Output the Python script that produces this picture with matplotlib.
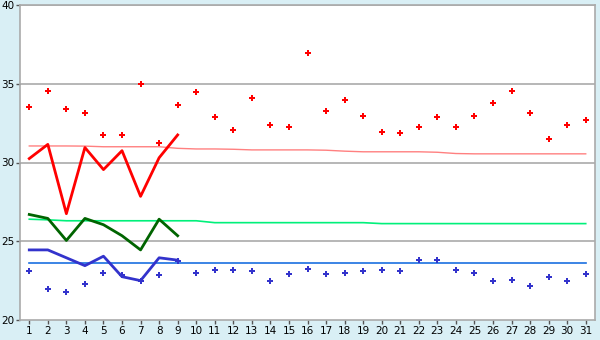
import matplotlib
matplotlib.use("Agg")
import matplotlib.pyplot as plt

# ---------------------------------------------------------------------------
# data
# ---------------------------------------------------------------------------
days = list(range(1, 32))

daily_max = [33.5, 34.55, 33.4, 33.15, 31.75, 31.75, 35.0, 31.25, 33.65, 34.5,
             32.9, 32.05, 34.1, 32.4, 32.25, 36.95, 33.25, 33.95, 32.95, 31.95,
             31.9, 32.25, 32.9, 32.25, 32.95, 33.8, 34.55, 33.15, 31.5, 32.4, 32.7]

daily_min = [23.1, 22.0, 21.8, 22.3, 23.0, 22.85, 22.5, 22.85, 23.75, 23.0,
             23.2, 23.2, 23.1, 22.5, 22.9, 23.25, 22.9, 23.0, 23.1, 23.2,
             23.1, 23.8, 23.8, 23.2, 23.0, 22.5, 22.55, 22.15, 22.7, 22.5, 22.9]

# partial-month actuals (days 1..9)
line_days = list(range(1, 10))
line_max = [30.25, 31.15, 26.75, 30.95, 29.55, 30.75, 27.85, 30.3, 31.75]
line_mean = [26.7, 26.45, 25.05, 26.45, 26.05, 25.35, 24.45, 26.4, 25.35]
line_min = [24.45, 24.45, 23.95, 23.45, 24.05, 22.75, 22.5, 23.95, 23.8]

# climate normals
norm_max = [31.05, 31.05, 31.05, 31.04, 31.0, 31.0, 31.0, 31.0, 30.9, 30.86,
            30.86, 30.84, 30.8, 30.8, 30.8, 30.8, 30.78, 30.72, 30.68, 30.68,
            30.68, 30.68, 30.65, 30.57, 30.55, 30.55, 30.55, 30.55, 30.55, 30.55, 30.55]
norm_mean = [26.4, 26.36] + [26.3] * 8 + [26.18] * 9 + [26.12] * 12
norm_min = [23.6] * 31

y_ticks = [20, 25, 30, 35, 40]

# ---------------------------------------------------------------------------
# figure
# ---------------------------------------------------------------------------
bg = "#d9eff5"
grid_c = "#aaaaaa"

fig = plt.figure(figsize=(6, 3.4), dpi=100, facecolor=bg)
ax = fig.add_axes([20 / 600, 20 / 340, 575 / 600, 315 / 340])
ax.set_facecolor("white")

for y in y_ticks[1:]:
    ax.axhline(y, color=grid_c, lw=1.2, zorder=1)

ax.plot(days, norm_max, color="#ff8080", lw=1, zorder=2)
ax.plot(days, norm_mean, color="#00f07a", lw=1.2, zorder=2)
ax.plot(days, norm_min, color="#1a6fe0", lw=1.2, zorder=2)

ax.plot(line_days, line_max, color="#ff0000", lw=2, zorder=3)
ax.plot(line_days, line_mean, color="#006400", lw=2, zorder=3)
ax.plot(line_days, line_min, color="#3333cc", lw=2, zorder=3)

ax.plot(days, daily_max, ls="none", marker="P", ms=4.5, color="#ff0000",
        mec="#ff0000", mew=0, zorder=4)
ax.plot(days, daily_min, ls="none", marker="P", ms=4.5, color="#3333cc",
        mec="#3333cc", mew=0, zorder=4)

ax.set_xlim(0.5, 31.5)
ax.set_ylim(20, 40)
ax.set_xticks(days)
ax.set_yticks(y_ticks)
ax.tick_params(axis="both", colors="#555555", labelcolor="black",
               labelsize=7.5, length=3, width=1, pad=1)

for side in ax.spines:
    ax.spines[side].set_color(grid_c)
    ax.spines[side].set_linewidth(1.2)

fig.savefig("out.png", dpi=100, facecolor=bg)
